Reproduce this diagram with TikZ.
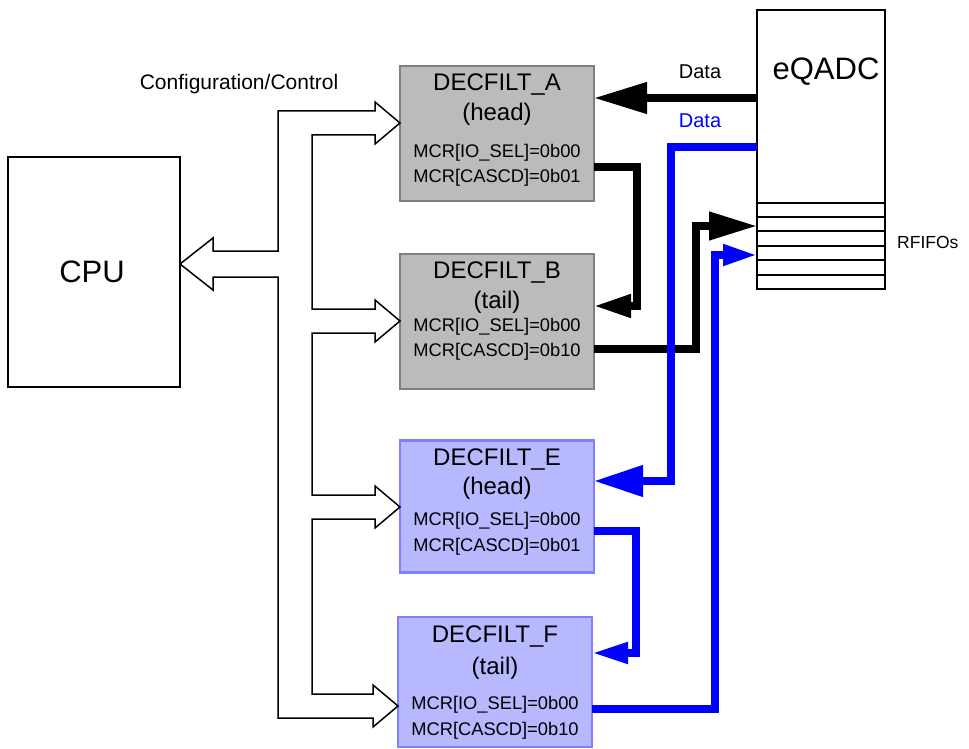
\documentclass[tikz,border=0pt]{standalone}
\usepackage{fontspec}
\setmainfont{Liberation Sans}
\usepackage{tikz}
\usetikzlibrary{arrows.meta,positioning}

\definecolor{filtgray}{RGB}{187,187,187}
\definecolor{filtgrayedge}{RGB}{128,128,128}
\definecolor{filtblue}{RGB}{184,184,255}
\definecolor{filtblueedge}{RGB}{128,128,255}
\definecolor{datablue}{RGB}{0,0,255}

\begin{document}
\begin{tikzpicture}[x=1pt, y=-1pt,
  unit/.style={rectangle, draw=black, line width=2.5pt, fill=white, inner sep=0pt, outer sep=0pt},
  filtA/.style={rectangle, draw=filtgrayedge, fill=filtgray, line width=2.5pt, minimum width=194pt, minimum height=135pt, inner sep=0pt, outer sep=0pt},
  filtB/.style={rectangle, draw=filtblueedge, fill=filtblue, line width=2.5pt, minimum width=194pt, minimum height=132pt, inner sep=0pt, outer sep=0pt},
  ttl/.style={font=\fontsize{24}{26}\selectfont, inner sep=0pt},
  reg/.style={font=\fontsize{18.3}{20}\selectfont, inner sep=0pt},
  lbl/.style={font=\fontsize{20}{22}\selectfont, inner sep=0pt},
  hollow/.style={draw=black, fill=white, line width=1.5pt, line join=miter},
  blk/.style={draw=black, line width=7.5pt},
  blu/.style={draw=datablue, line width=7.5pt},
  fifo/.style={draw=black, line width=1.8pt}
]
\useasboundingbox (0,0) rectangle (969,749);

% --------- CPU and eQADC ----------
\node[unit, minimum width=172pt, minimum height=230pt] (CPU) at (94,272) {};
\node[font=\fontsize{31}{33}\selectfont] at (92,272) {CPU};

\node[unit, minimum width=128pt, minimum height=279pt] (Q) at (821,149.5) {};
\node[font=\fontsize{31}{33}\selectfont] at (826,72) {eQADC};
\foreach \y in {203,217,231,246,260,275}
  \draw[fifo] (Q.west |- 0,\y) -- (Q.east |- 0,\y);
\node[font=\fontsize{17.5}{19}\selectfont, anchor=west, inner sep=0pt] at (897,242) {RFIFOs};

% --------- decimation filters ----------
\node[filtA] (A) at (497,133.5) {};
\node[ttl] at (497,85) {DECFILT\_A};
\node[ttl] at (497,114) {(head)};
\node[reg] at (497,153) {MCR[IO\_SEL]=0b00};
\node[reg] at (497,178) {MCR[CASCD]=0b01};

\node[filtA] (B) at (497,321.5) {};
\node[ttl] at (497,273) {DECFILT\_B};
\node[ttl] at (497,302) {(tail)};
\node[reg] at (497,327) {MCR[IO\_SEL]=0b00};
\node[reg] at (497,352) {MCR[CASCD]=0b10};

\node[filtB] (E) at (497,506.5) {};
\node[ttl] at (497,460) {DECFILT\_E};
\node[ttl] at (497,488) {(head)};
\node[reg] at (497,521) {MCR[IO\_SEL]=0b00};
\node[reg] at (497,547) {MCR[CASCD]=0b01};

\node[filtB, minimum height=130pt] (F) at (495,682) {};
\node[ttl] at (495,636) {DECFILT\_F};
\node[ttl] at (495,668) {(tail)};
\node[reg] at (495,705) {MCR[IO\_SEL]=0b00};
\node[reg] at (495,731) {MCR[CASCD]=0b10};

% --------- configuration bus ----------
\node[font=\fontsize{21}{23}\selectfont, inner sep=0pt] at (239,84) {Configuration/Control};
\draw[hollow] (CPU.east |- 0,264) -- (213,238) -- (213,251) -- (278,251) -- (278,111)
  -- (375,111) -- (375,102) -- (A.west |- 0,123) -- (375,144) -- (375,135)
  -- (312,135) -- (312,309) -- (375,309) -- (375,300) -- (B.west |- 0,321)
  -- (375,342) -- (375,333) -- (312,333) -- (312,495) -- (375,495) -- (375,486)
  -- (E.west |- 0,507) -- (375,528) -- (375,519) -- (312,519) -- (312,694)
  -- (373,694) -- (373,685) -- (F.west |- 0,706) -- (373,727) -- (373,718)
  -- (278,718) -- (278,277) -- (213,277) -- (213,290) -- cycle;

% --------- data paths ----------
\node[lbl] at (700,72) {Data};
\node[lbl, text=datablue] at (700,121) {Data};

\draw[blk, -{Triangle[length=53pt, width=30pt]}] (Q.west |- 0,98) -- (A.east |- 0,98);
\draw[blk, -{Triangle[length=37pt, width=22pt]}] (A.east |- 0,167) -| (637,306) -- (B.east |- 0,306);
\draw[blk, -{Triangle[length=48pt, width=27pt]}] (B.east |- 0,349) -| (696,226) -- (Q.west |- 0,226);

\draw[blu, -{Triangle[length=49pt, width=30pt]}] (Q.west |- 0,147) -| (671,481) -- (E.east |- 0,481);
\draw[blu, -{Triangle[length=36pt, width=20pt]}] (E.east |- 0,531) -| (636,653) -- (F.east |- 0,653);
\draw[blu, -{Triangle[length=34pt, width=20pt]}] (F.east |- 0,709) -| (715,255) -- (Q.west |- 0,255);

\end{tikzpicture}
\end{document}
